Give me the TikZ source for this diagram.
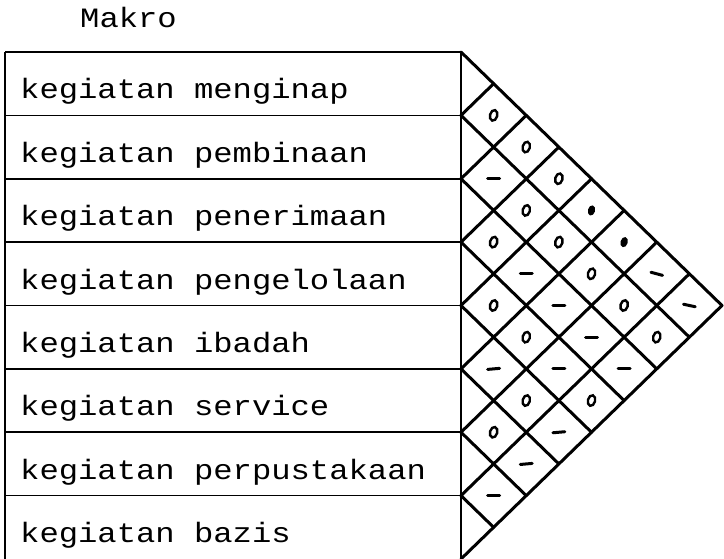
\documentclass[tikz,border=0pt]{standalone}
\usepackage{fontspec}
\newfontfamily\typewriter[FakeStretch=1.15]{Liberation Mono}
\begin{document}
\begin{tikzpicture}[x=1pt,y=-1pt,
  tbl/.style={line width=1.6pt},
  grd/.style={line width=3pt, line cap=round, line join=round},
  lbl/.style={anchor=base west, inner sep=0pt, font=\typewriter\fontsize{28}{28}\selectfont},
  omark/.style={draw, line width=2.4pt},
  hmark/.style={line width=3pt, line cap=round}]
\useasboundingbox (0,0) rectangle (724,559);
\def\XL{461}\def\YT{52}\def\hx{32.625}\def\hy{31.6875}
% title
\node[lbl] (title) at (80,28) {Makro};
% table
\draw[tbl] (5,\YT) -- (5,559);
\draw[tbl] (\XL,\YT) -- (\XL,559);
\foreach \k in {0,...,7}{
  \draw[tbl] (5,{\YT+2*\k*\hy}) -- (\XL,{\YT+2*\k*\hy});
}
\foreach \k/\t in {1/kegiatan menginap,2/kegiatan pembinaan,3/kegiatan penerimaan,4/kegiatan pengelolaan,5/kegiatan ibadah,6/kegiatan service,7/kegiatan perpustakaan,8/kegiatan bazis}{
  \node[lbl] (l\k) at (20,{\YT+2*(\k-1)*\hy+47}) {\t};
}
% triangle edges
\coordinate (apex) at ({\XL+8*\hx},{\YT+8*\hy});
\coordinate (top) at (\XL,\YT);
\coordinate (bot) at (\XL,559);
\draw[grd] (top) -- (apex) -- (bot);
% grid lines
\foreach \k in {1,...,7}{
  \draw[grd] (\XL,{\YT+2*\k*\hy}) -- ({\XL+(8-\k)*\hx},{\YT+(\k+8)*\hy});
  \draw[grd] (\XL,{\YT+2*\k*\hy}) -- ({\XL+\k*\hx},{\YT+\k*\hy});
}
% marks: o
\foreach \i/\j in {1/2,1/3,1/4,2/4,3/4,2/5,2/6,4/5,2/7,4/6,2/8,5/7,4/8,6/7}{
  \draw[omark,rotate around={-15:({\XL+(\j-\i)*\hx},{\YT+(\i+\j-1)*\hy})}] ({\XL+(\j-\i)*\hx},{\YT+(\i+\j-1)*\hy}) ellipse (3.6 and 5.4);
}
% marks: filled dots
\foreach \i/\j in {1/5,1/6}{
  \fill[rotate around={-15:({\XL+(\j-\i)*\hx},{\YT+(\i+\j-1)*\hy})}] ({\XL+(\j-\i)*\hx},{\YT+(\i+\j-1)*\hy}) ellipse (3.6 and 5.2);
}
% marks: dashes
\foreach \i/\j/\a in {2/3/0,3/5/0,1/7/-15,3/6/0,1/8/-12,3/7/0,5/6/5,4/7/0,3/8/0,5/8/5,6/8/5,7/8/0}{
  \draw[hmark,rotate around={\a:({\XL+(\j-\i)*\hx},{\YT+(\i+\j-1)*\hy})}] ({\XL+(\j-\i)*\hx-6},{\YT+(\i+\j-1)*\hy}) -- ({\XL+(\j-\i)*\hx+6},{\YT+(\i+\j-1)*\hy});
}
\end{tikzpicture}
\end{document}
